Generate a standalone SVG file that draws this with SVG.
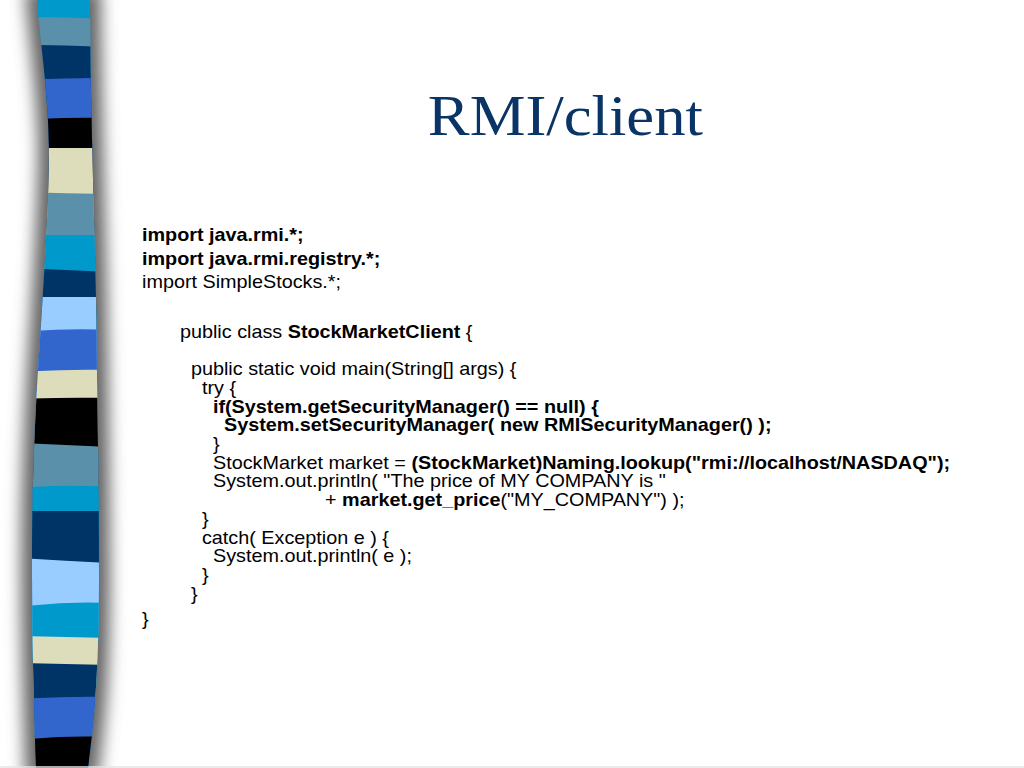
<svg xmlns="http://www.w3.org/2000/svg" width="1024" height="768" viewBox="0 0 1024 768">
<defs>
<clipPath id="stripeClip">
<path id="stripeShape" d="M37,0 C40,40 49,100 49,150 C49,200 44,280 38,370 C35,420 32,480 32,560 C32,650 34,700 36,768 L88,768 C93,730 99,680 99,580 C99,480 97,380 96,300 C94,200 90,100 90,0 Z"/>
</clipPath>
<filter id="blur" x="-100%" y="-10%" width="300%" height="120%">
<feGaussianBlur stdDeviation="8"/>
</filter>
<style>
.code{font-family:"Liberation Sans",Arial,sans-serif;font-size:18px;fill:#000}
.b{font-weight:bold}
.title{font-family:"Liberation Serif","Times New Roman",serif;font-size:57px;fill:#0A3366}
.cy{fill:#0099CC}.st{fill:#5B90AA}.nv{fill:#003366}.ro{fill:#3366CC}.bk{fill:#000}.be{fill:#DDDDBB}.lb{fill:#99CCFF}
</style>
</defs>
<rect width="1024" height="768" fill="#fff"/>
<g id="stripe">
<path d="M37,0 C40,40 49,100 49,150 C49,200 44,280 38,370 C35,420 32,480 32,560 C32,650 34,700 36,768 L88,768 C93,730 99,680 99,580 C99,480 97,380 96,300 C94,200 90,100 90,0 Z" fill="#555" stroke="#666" stroke-width="22" filter="url(#blur)"/>
<g clip-path="url(#stripeClip)">
<path class="cy" d="M20,0 L110,0 L110,768 L20,768 Z"/>
<path class="st" d="M20,17 Q65,17 110,19 L110,768 L20,768 Z"/>
<path class="nv" d="M20,45 Q65,45 110,47 L110,768 L20,768 Z"/>
<path class="ro" d="M20,80 Q65,78 110,78 L110,768 L20,768 Z"/>
<path class="bk" d="M20,120 Q65,117 110,118 L110,768 L20,768 Z"/>
<path class="be" d="M20,148 L110,148 L110,768 L20,768 Z"/>
<path class="st" d="M20,192 Q65,193 110,194 L110,768 L20,768 Z"/>
<path class="cy" d="M20,235 L110,235 L110,768 L20,768 Z"/>
<path class="nv" d="M20,268 Q65,270 110,272 L110,768 L20,768 Z"/>
<path class="lb" d="M20,297 L110,297 L110,768 L20,768 Z"/>
<path class="ro" d="M20,332 Q65,328 110,330 L110,768 L20,768 Z"/>
<path class="be" d="M20,372 Q65,369 110,370 L110,768 L20,768 Z"/>
<path class="bk" d="M20,399 Q65,397 110,398 L110,768 L20,768 Z"/>
<path class="st" d="M20,443 Q65,445 110,447 L110,768 L20,768 Z"/>
<path class="cy" d="M20,488 Q65,484 110,487 L110,768 L20,768 Z"/>
<path class="nv" d="M20,511 L110,511 L110,768 L20,768 Z"/>
<path class="lb" d="M20,558 Q65,561 110,563 L110,768 L20,768 Z"/>
<path class="cy" d="M20,607 Q65,601 110,603 L110,768 L20,768 Z"/>
<path class="be" d="M20,636 Q65,637 110,638 L110,768 L20,768 Z"/>
<path class="nv" d="M20,663 Q65,664 110,665 L110,768 L20,768 Z"/>
<path class="ro" d="M20,699 Q65,696 110,697 L110,768 L20,768 Z"/>
<path class="bk" d="M20,740 Q65,735 110,737 L110,768 L20,768 Z"/>
</g>
</g>
<line x1="0" y1="767" x2="1024" y2="767" stroke="#e4e4e4" stroke-width="1.5"/>
<g id="title" transform="scale(1.1 1)">
<text class="title" x="514" y="135" text-anchor="middle">RMI/client</text>
</g>
<g id="code" transform="scale(1.1 1)">
<text class="code b" x="129.1" y="241">import java.rmi.*;</text>
<text class="code b" x="129.1" y="265">import java.rmi.registry.*;</text>
<text class="code" x="129.1" y="288">import SimpleStocks.*;</text>
<text class="code" x="163.6" y="338">public class <tspan class="b">StockMarketClient</tspan> {</text>
<text class="code" x="173.6" y="375.3">public static void main(String[] args) {</text>
<text class="code" x="183.6" y="394">try {</text>
<text class="code b" x="193.6" y="412.7">if(System.getSecurityManager() == null) {</text>
<text class="code b" x="203.6" y="431.4">System.setSecurityManager( new RMISecurityManager() );</text>
<text class="code" x="193.6" y="450.1">}</text>
<text class="code" x="193.6" y="468.8">StockMarket market = <tspan class="b">(StockMarket)Naming.lookup("rmi://localhost/NASDAQ");</tspan></text>
<text class="code" x="193.6" y="487.5">System.out.println( "The price of MY COMPANY is "</text>
<text class="code" x="295.5" y="506.2">+ <tspan class="b">market.get_price</tspan>("MY_COMPANY") );</text>
<text class="code" x="183.6" y="524.9">}</text>
<text class="code" x="183.6" y="543.6">catch( Exception e ) {</text>
<text class="code" x="193.6" y="562.3">System.out.println( e );</text>
<text class="code" x="183.6" y="581">}</text>
<text class="code" x="173.6" y="599.7">}</text>
<text class="code" x="129.1" y="625">}</text>
</g>
</svg>
